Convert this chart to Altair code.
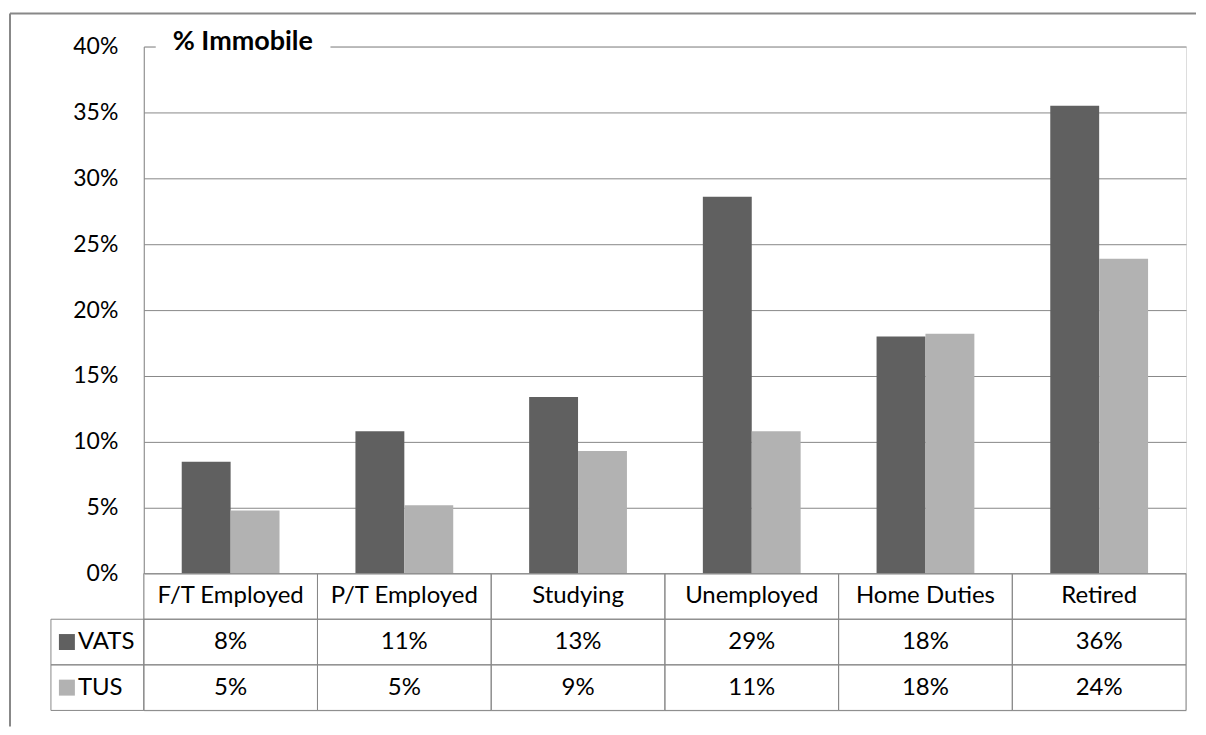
import altair as alt
import pandas as pd

categories = ["F/T Employed", "P/T Employed", "Studying", "Unemployed", "Home Duties", "Retired"]
series = ["VATS", "TUS"]
vats = [8.5, 10.8, 13.4, 28.6, 18.0, 35.5]
tus = [4.8, 5.2, 9.3, 10.8, 18.2, 23.9]
vats_labels = ["8%", "11%", "13%", "29%", "18%", "36%"]
tus_labels = ["5%", "5%", "9%", "11%", "18%", "24%"]
y_ticks = [0, 5, 10, 15, 20, 25, 30, 35, 40]
colors = ["#606060", "#b2b2b2"]
title_text = "% Immobile"
rows = ["cat", "VATS", "TUS"]

FONT = "Lato"
GRID = "#888888"
W, H, TH = 1044, 528, 137
FS = 24
YFS = 23

bars_df = pd.DataFrame({
    "category": categories * 2,
    "series": ["VATS"] * len(categories) + ["TUS"] * len(categories),
    "value": vats + tus,
})

table_rows = []
for i, c in enumerate(categories):
    table_rows.append({"row": "cat", "col": c, "text": c})
    table_rows.append({"row": "VATS", "col": c, "text": vats_labels[i]})
    table_rows.append({"row": "TUS", "col": c, "text": tus_labels[i]})
table_df = pd.DataFrame(table_rows)
legend_df = pd.DataFrame({"series": series, "row": series})
one = pd.DataFrame({"k": [0]})

color = alt.Color("series:N", scale=alt.Scale(domain=series, range=colors), legend=None)

bars = alt.Chart(bars_df).mark_bar().encode(
    x=alt.X("category:N", sort=categories, axis=None,
            scale=alt.Scale(paddingInner=0.437, paddingOuter=0.2185)),
    xOffset=alt.XOffset("series:N", sort=series, scale=alt.Scale(paddingInner=0, paddingOuter=0)),
    y=alt.Y("value:Q", scale=alt.Scale(domain=[0, 40], nice=False),
            axis=alt.Axis(values=y_ticks, labelExpr="datum.value + '%'", title=None,
                          grid=True, gridColor=GRID, gridWidth=1,
                          domainColor=GRID, domainWidth=1, ticks=False,
                          labelPadding=26, labelFont=FONT, labelFontSize=YFS,
                          labelColor="#000000")),
    color=color,
)

title_bg = alt.Chart(one).mark_rect(color="white").encode(
    x=alt.value(12), x2=alt.value(187), y=alt.value(-12), y2=alt.value(12))
title_txt = alt.Chart(one).mark_text(
    align="left", baseline="middle", font=FONT, fontSize=27, fontWeight="bold", color="#000000"
).encode(x=alt.value(29), y=alt.value(-5), text=alt.value(title_text))

frame_v = alt.Chart(one).mark_rule(color=GRID, strokeWidth=2).encode(
    x=alt.value(-134), y=alt.value(-33), y2=alt.value(681))
frame_h = alt.Chart(one).mark_rule(color=GRID, strokeWidth=2).encode(
    x=alt.value(-134), x2=alt.value(1054), y=alt.value(-33))

top = alt.layer(frame_v, frame_h, bars, title_bg, title_txt).properties(width=W, height=H)

xs = alt.X("col:N", sort=categories, axis=None, scale=alt.Scale(paddingInner=0, paddingOuter=0))
ys = alt.Y("row:N", sort=rows, axis=None, scale=alt.Scale(paddingInner=0, paddingOuter=0))

cells = alt.Chart(table_df).mark_rect(fill="transparent", stroke=GRID, strokeWidth=1).encode(x=xs, y=ys)
texts = alt.Chart(table_df).mark_text(font=FONT, fontSize=FS, color="#000000", baseline="middle").encode(
    x=xs, y=ys, text="text:N")
leg_cells = alt.Chart(legend_df).mark_rect(fill="transparent", stroke=GRID, strokeWidth=1).encode(
    x=alt.value(-93), x2=alt.value(0), y=ys)
leg_sq = alt.Chart(legend_df).mark_point(shape="square", filled=True, size=256, opacity=1).encode(
    x=alt.value(-77), y=ys, color=color)
leg_txt = alt.Chart(legend_df).mark_text(align="left", baseline="middle", font=FONT, fontSize=FS,
                                          color="#000000").encode(
    x=alt.value(-66), y=ys, text="series:N")

bottom = alt.layer(cells, texts, leg_cells, leg_sq, leg_txt).properties(width=W, height=TH)

chart = alt.vconcat(top, bottom, spacing=0, bounds="flush").resolve_scale(
    x="independent", y="independent"
).properties(
    padding={"left": 0, "top": 3, "right": 0, "bottom": 0},
    background="white",
).configure_view(strokeWidth=0).configure(font=FONT)

chart.save("out.html", embed_options={"renderer": "svg", "actions": False})
